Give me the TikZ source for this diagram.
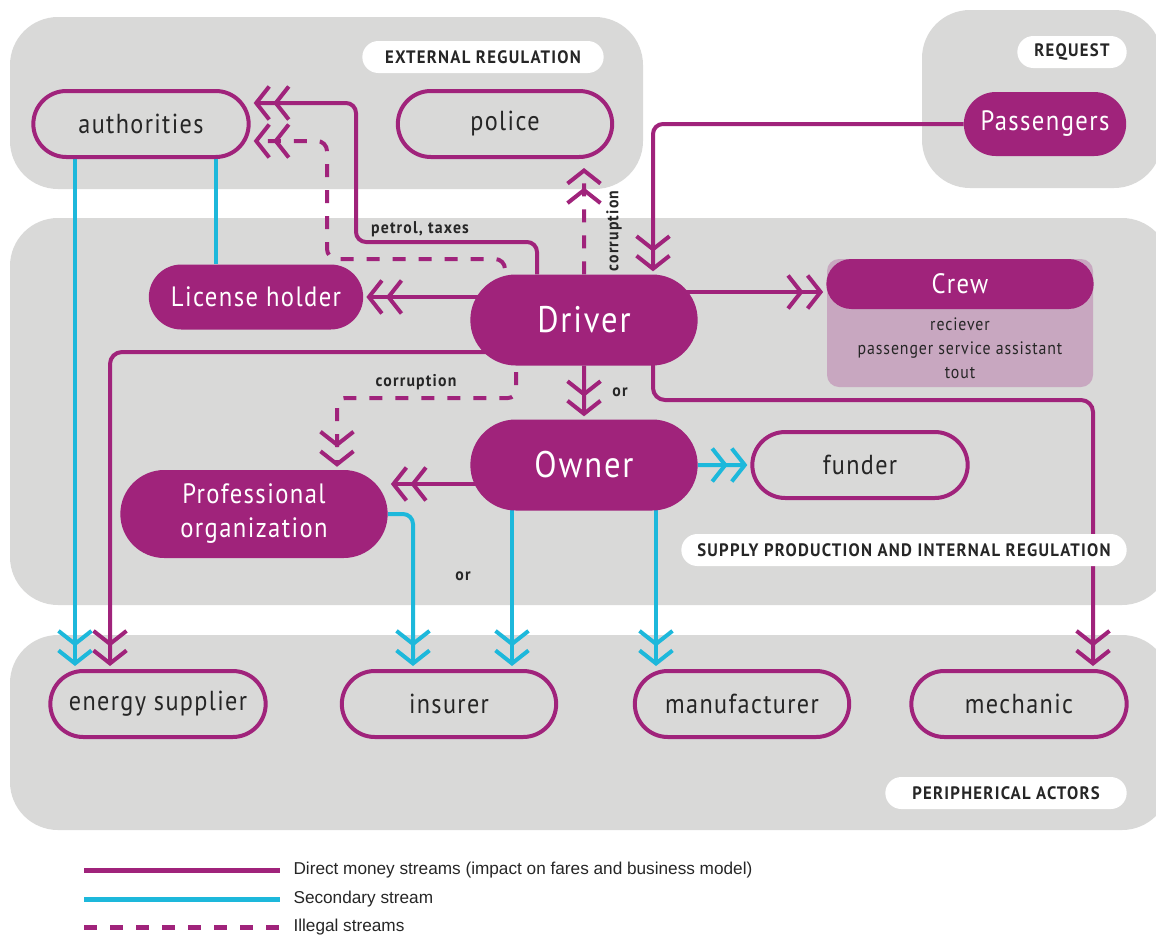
\documentclass[tikz,border=0pt]{standalone}
\usepackage{fontspec}
\setmainfont{Liberation Sans}
\newfontfamily\dinfont[FakeStretch=0.88,LetterSpace=5]{PT Sans}
\newfontfamily\tagfont[FakeStretch=0.93,LetterSpace=7]{PT Sans}
\usetikzlibrary{arrows.meta,shapes.misc,backgrounds}
\definecolor{plum}{HTML}{A0237B}
\definecolor{sky}{HTML}{1DB8DB}
\definecolor{zone}{HTML}{D9D9D8}
\definecolor{crewpink}{HTML}{C8A7C0}
\definecolor{ink}{HTML}{262626}
\pgfdeclarelayer{zones}
\pgfdeclarelayer{flows}
\pgfsetlayers{zones,flows,main}
\tikzset{
  actor/.style={rounded rectangle,draw=plum,line width=4pt,fill=zone,text=ink,
    minimum width=222pt,minimum height=66pt,font=\dinfont\fontsize{27.5}{30}\selectfont},
  key/.style={rounded rectangle,fill=plum,text=white,
    font=\dinfont\fontsize{28}{34}\selectfont},
  boss/.style={key,minimum width=234pt,minimum height=91pt,font=\dinfont\fontsize{37}{44}\selectfont},
  tag/.style={rounded rectangle,fill=white,text=ink,minimum height=32pt,
    font=\tagfont\bfseries\fontsize{18}{20}\selectfont},
  zonebox/.style={fill=zone,rounded corners=48pt},
  small/.style={text=ink,font=\tagfont\bfseries\fontsize{17}{19}\selectfont},
  money/.style={draw=plum,line width=4pt},
  second/.style={draw=sky,line width=4pt},
  illegal/.style={money,dash pattern=on 13pt off 13pt},
  dbl/.style={-{>[sep=2pt]>},shorten >=3pt},
  legend/.style={anchor=west,text=ink,font=\fontsize{17.2}{18}\selectfont},
}
\begin{document}
\begin{tikzpicture}[x=1pt,y=-1pt,>={Straight Barb[length=13pt,width=33pt]},line join=round,line cap=round]
\useasboundingbox (0,0) rectangle (1156,935);

% zones
\begin{pgfonlayer}{zones}
  \fill[zonebox] (10,17) rectangle (643,189);
  \fill[zonebox] (922,10) rectangle (1162,188);
  \fill[zonebox] (10,218) rectangle (1170,605);
  \fill[zonebox] (10,635) rectangle (1170,830);
\end{pgfonlayer}

% zone tags
\node[tag,minimum width=248pt] (extTag) at (483,57) {EXTERNAL REGULATION};
\node[tag,minimum width=116pt] (reqTag) at (1072,52) {REQUEST};
\node[tag,minimum width=452pt] (supTag) at (904,550) {SUPPLY PRODUCTION AND INTERNAL REGULATION};
\node[tag,minimum width=248pt] (perTag) at (1006,793) {PERIPHERICAL ACTORS};

% actors
\node[actor] (auth) at (141,124) {authorities};
\node[actor,minimum width=221pt] (police) at (505,124) {police};
\node[key,minimum width=169pt,minimum height=64pt] (pass) at (1045,124) {Passengers};
\node[key,minimum width=221pt,minimum height=65pt] (lic) at (256,297) {License holder};
\node[boss] (driver) at (584,320) {Driver};
\node[fill=crewpink,rounded corners=12pt,minimum width=266pt,minimum height=128pt] (crewbox) at (960,323) {};
\node[key,minimum width=274pt,minimum height=50pt] (crew) at (960,284) {Crew};
\node[text=ink,align=center,font=\dinfont\fontsize{18}{24}\selectfont] (roles) at (960,348)
  {reciever\\passenger service assistant\\tout};
\node[boss] (owner) at (584,465) {Owner};
\node[actor] (funder) at (860,465) {funder};
\node[key,minimum width=274pt,minimum height=88pt,align=center] (prof) at (254,514) {Professional\\organization};
\node[actor] (energy) at (158,704) {energy supplier};
\node[actor,minimum width=221pt] (insurer) at (449,704) {insurer};
\node[actor,minimum width=221pt] (manuf) at (742,704) {manufacturer};
\node[actor] (mech) at (1019,704) {mechanic};

% labels
\node[small] (petrol) at (420,229) {petrol, taxes};
\node[small,rotate=90] (corrUp) at (614,231) {corruption};
\node[small] (corrDown) at (416,382) {corruption};
\node[small] (orOwner) at (620,392) {or};
\node[small] (orIns) at (463,576) {or};

% anchor points for the streams
\coordinate (crewIn) at ([yshift=-8pt]crew.west);
\coordinate (profIn) at ([yshift=30pt]prof.east);
\coordinate (mechTurn) at (1093,400);
\coordinate (corrTurn) at (337,398);
\coordinate (enA) at ([xshift=-83pt]energy.north);
\coordinate (enB) at ([xshift=-48pt]energy.north);
\coordinate (insA) at ([xshift=-36pt]insurer.north);
\coordinate (insB) at ([xshift=63pt]insurer.north);
\coordinate (manA) at ([xshift=-86pt]manuf.north);
\coordinate (licA) at ([xshift=-40pt]lic.north);

% streams
\begin{pgfonlayer}{flows}
  % direct money
  \draw[money,dbl,rounded corners=10pt] ([xshift=-47pt]driver.north) |- (356,242) |- ([yshift=21pt]auth.east);
  \draw[money,dbl,rounded corners=10pt] (pass.west) -| ([xshift=69pt]driver.north);
  \draw[money,dbl] (lic.east -| driver) -- (lic.east);
  \draw[money,dbl] (crewIn -| driver) -- (crewIn);
  \draw[money,dbl,rounded corners=12pt] ([yshift=-32pt]driver.center) -| (enB);
  \draw[money,dbl,rounded corners=12pt] ([xshift=69pt]driver.center) |- (mechTurn) -- (mechTurn |- mech.north);
  \draw[money,dbl] (driver) -- (owner.north);
  \draw[money,dbl] (profIn -| owner) -- (profIn);
  % secondary
  \draw[second,dbl] (owner) -- (funder.west);
  \draw[second,dbl] (insB |- owner) -- (insB);
  \draw[second,dbl] (manA |- owner) -- (manA);
  \draw[second,dbl,rounded corners=10pt] (prof) -| (insA);
  \draw[second,dbl] (enA |- auth) -- (enA);
  \draw[second] (licA |- auth) -- (licA);
  % illegal
  \draw[illegal,dbl,rounded corners=10pt] ([xshift=-79pt]driver.center) |- (327,259) |- ([yshift=-17pt]auth.east);
  \draw[illegal,dbl,shorten >=9pt] (driver) -- (police.south -| driver);
  \draw[illegal,dbl,rounded corners=8pt] ([xshift=-68pt]driver.center) |- (corrTurn) -- (corrTurn |- prof.north);
\end{pgfonlayer}

% legend
\node[legend] (lgMoney) at (290,870) {Direct money streams (impact on fares and business model)};
\node[legend] (lgSecond) at (290,899) {Secondary stream};
\node[legend] (lgIllegal) at (290,927) {Illegal streams};
\draw[money,line width=5pt,line cap=butt] ([xshift=-206pt]lgMoney.west) -- ([xshift=-10pt]lgMoney.west);
\draw[second,line width=5pt,line cap=butt] ([xshift=-206pt]lgSecond.west) -- ([xshift=-10pt]lgSecond.west);
\draw[illegal,line width=5pt,line cap=butt] ([xshift=-206pt]lgIllegal.west) -- ([xshift=-10pt]lgIllegal.west);
\end{tikzpicture}
\end{document}
